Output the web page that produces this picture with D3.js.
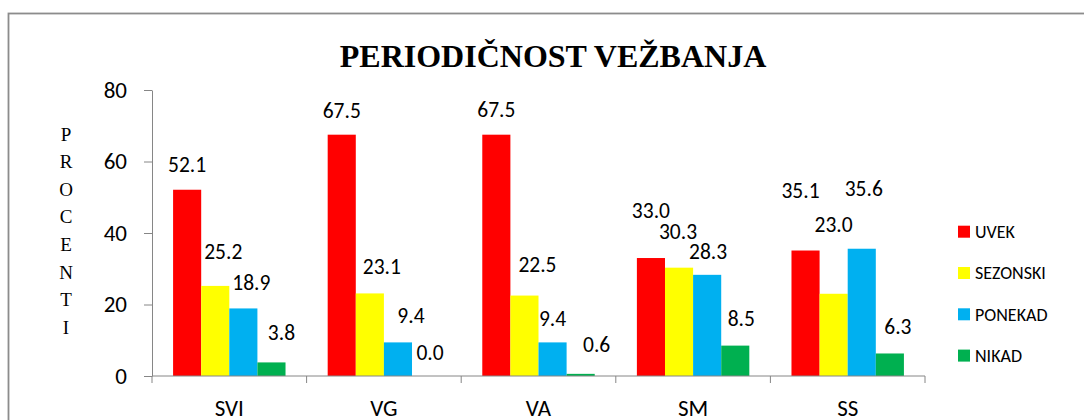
<!DOCTYPE html>
<html>
<head>
<meta charset="utf-8">
<script src="https://cdn.jsdelivr.net/npm/d3@7"></script>
<style>
  body { margin: 0; background: #fff; }
  svg { display: block; }
  text { font-family: Calibri, Carlito, Lato, sans-serif; fill: #000; }
</style>
</head>
<body>
<div id="chart"></div>
<script>
// chart values
var categories = ['SVI', 'VG', 'VA', 'SM', 'SS'];
var seriesNames = ['UVEK', 'SEZONSKI', 'PONEKAD', 'NIKAD'];
var uvek     = [52.1, 67.5, 67.5, 33.0, 35.1];
var sezonski = [25.2, 23.1, 22.5, 30.3, 23.0];
var ponekad  = [18.9,  9.4,  9.4, 28.3, 35.6];
var nikad    = [ 3.8,  0.0,  0.6,  8.5,  6.3];
var yTicks = [0, 20, 40, 60, 80];

var colors = ['#FF0000', '#FFFF00', '#00B0F0', '#00B050'];

// data labels were dragged by hand in the original; [dx, dy] nudges
// relative to the bar centre / bar top, one row per series
var labelNudge = [
  [[0, -25], [0, -24], [0, -25], [0, -48], [-5, -60]],
  [[8, -34], [12, -27], [13, -31], [-1, -36], [0, -69]],
  [[8, -26], [13, -27], [0, -24], [1, -23], [2, -60]],
  [[10, -30], [4, -24], [16, -29], [6, -27], [8, -27]]
];

var width = 1084, height = 420;
var values = [uvek, sezonski, ponekad, nikad];

var svg = d3.select('#chart').append('svg')
  .attr('width', width)
  .attr('height', height);

// outer frame (runs off the right and bottom edge)
svg.append('rect')
  .attr('x', 8.5).attr('y', 13.5)
  .attr('width', 1200).attr('height', 600)
  .attr('fill', 'none')
  .attr('stroke', '#8c8c8c')
  .attr('stroke-width', 1.8);

// title
svg.append('text')
  .attr('x', 553).attr('y', 67)
  .attr('text-anchor', 'middle')
  .style('font-family', '"Liberation Serif", "Times New Roman", serif')
  .style('font-weight', 'bold')
  .style('font-size', '32px')
  .text('PERIODIČNOST VEŽBANJA');

// scales
var x0 = d3.scaleBand().domain(categories).range([152, 925]);
var x1 = d3.scaleBand().domain(d3.range(seriesNames.length))
  .range([0, x0.bandwidth()])
  .paddingInner(0)
  .paddingOuter(0.75);
var y = d3.scaleLinear().domain([0, 80]).range([376, 90]);

// bars
var groups = svg.append('g').selectAll('g')
  .data(values)
  .join('g')
  .attr('fill', function(d, i) { return colors[i]; });

groups.selectAll('rect')
  .data(function(d, i) { return d.map(function(v, j) { return {s: i, c: j, v: v}; }); })
  .join('rect')
  .attr('x', function(d) { return x0(categories[d.c]) + x1(d.s); })
  .attr('y', function(d) { return y(d.v); })
  .attr('width', x1.bandwidth())
  .attr('height', function(d) { return y(0) - y(d.v); });

// value labels
groups.selectAll('text')
  .data(function(d, i) { return d.map(function(v, j) { return {s: i, c: j, v: v}; }); })
  .join('text')
  .attr('x', function(d) { return x0(categories[d.c]) + x1(d.s) + x1.bandwidth() / 2 + labelNudge[d.s][d.c][0]; })
  .attr('y', function(d) { return y(d.v) + labelNudge[d.s][d.c][1]; })
  .attr('dy', '0.35em')
  .attr('text-anchor', 'middle')
  .style('font-size', '21.5px')
  .style('fill', '#000')
  .text(function(d) { return d.v.toFixed(1); });

// y axis
var yAxis = svg.append('g')
  .attr('transform', 'translate(152,0)')
  .call(d3.axisLeft(y).tickValues(yTicks).tickSize(8).tickSizeOuter(0).tickPadding(17));
yAxis.select('.domain').attr('stroke', '#868686');
yAxis.selectAll('.tick line').attr('stroke', '#868686');
yAxis.selectAll('.tick text')
  .style('font-family', 'Calibri, Carlito, Lato, sans-serif')
  .style('font-size', '23px');

// x axis: baseline plus ticks on the category boundaries
var xAxis = svg.append('g').attr('class', 'x-axis');
xAxis.append('line')
  .attr('x1', x0.range()[0]).attr('x2', x0.range()[1])
  .attr('y1', y(0)).attr('y2', y(0))
  .attr('stroke', '#868686');
xAxis.selectAll('line.tick')
  .data(d3.range(categories.length + 1))
  .join('line')
  .attr('class', 'tick')
  .attr('x1', function(i) { return x0.range()[0] + i * x0.step(); })
  .attr('x2', function(i) { return x0.range()[0] + i * x0.step(); })
  .attr('y1', y(0)).attr('y2', y(0) + 7)
  .attr('stroke', '#868686');
xAxis.selectAll('text')
  .data(categories)
  .join('text')
  .attr('x', function(d) { return x0(d) + x0.bandwidth() / 2; })
  .attr('y', 416)
  .attr('text-anchor', 'middle')
  .style('font-size', '23px')
  .text(function(d) { return d; });

// vertical axis title, one letter per line
svg.append('g').selectAll('text')
  .data('PROCENTI'.split(''))
  .join('text')
  .attr('x', 66)
  .attr('y', function(d, i) { return 134 + i * 27.6; })
  .attr('dy', '0.35em')
  .attr('text-anchor', 'middle')
  .style('font-family', '"Liberation Serif", "Times New Roman", serif')
  .style('font-size', '19px')
  .text(function(d) { return d; });

// legend
var legend = svg.append('g').selectAll('g')
  .data(seriesNames)
  .join('g')
  .attr('transform', function(d, i) { return 'translate(958,' + (231.7 + i * 41.3) + ')'; });
legend.append('rect')
  .attr('x', 0).attr('y', -6)
  .attr('width', 12).attr('height', 12)
  .attr('fill', function(d, i) { return colors[i]; });
legend.append('text')
  .attr('x', 17)
  .attr('dy', '0.35em')
  .style('font-size', '18px')
  .text(function(d) { return d; });
</script>
</body>
</html>
